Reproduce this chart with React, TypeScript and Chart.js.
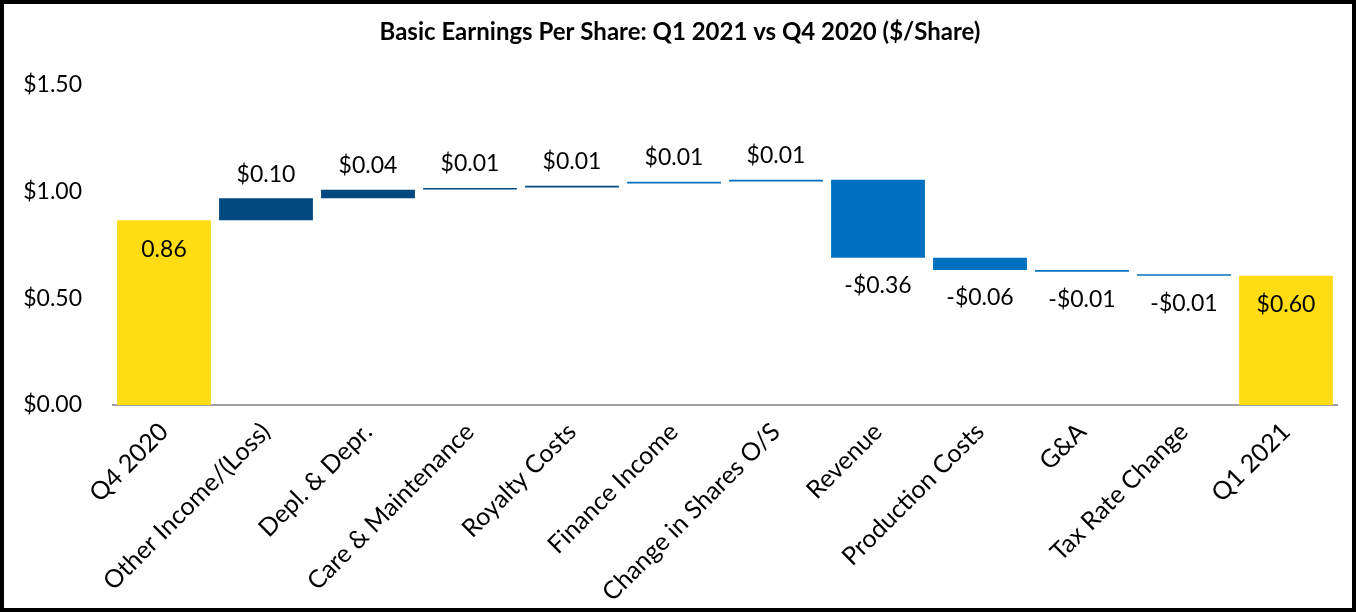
import React, { useEffect, useRef } from "react";
import { Chart, registerables } from "chart.js";

Chart.register(...registerables);

const categories = [
  "Q4 2020",
  "Other Income/(Loss)",
  "Depl. & Depr.",
  "Care & Maintenance",
  "Royalty Costs",
  "Finance Income",
  "Change in Shares O/S",
  "Revenue",
  "Production Costs",
  "G&A",
  "Tax Rate Change",
  "Q1 2021",
];

// Floating bar ends ($/share)
const barLow = [0, 0.865, 0.969, 1.009, 1.019, 1.038, 1.047, 0.69, 0.633, 0.624, 0.605, 0];
const barHigh = [0.865, 0.969, 1.008, 1.017, 1.027, 1.046, 1.055, 1.055, 0.69, 0.632, 0.613, 0.605];

const valueLabels = [
  "0.86",
  "$0.10",
  "$0.04",
  "$0.01",
  "$0.01",
  "$0.01",
  "$0.01",
  "-$0.36",
  "-$0.06",
  "-$0.01",
  "-$0.01",
  "$0.60",
];

// where each value label goes relative to its bar
const labelPlacement = [
  "inside", "above", "above", "above", "above", "above", "above",
  "below", "below", "below", "below", "inside",
];

const yTicks = [0, 0.5, 1.0, 1.5];

const YELLOW = "#FFDC14";
const NAVY = "#004A80";
const BLUE = "#0070C0";
const barColors = [YELLOW, NAVY, NAVY, NAVY, NAVY, BLUE, BLUE, BLUE, BLUE, BLUE, BLUE, YELLOW];

const FONT = "Lato, 'Open Sans', sans-serif";

const valueLabelPlugin = {
  id: "valueLabels",
  afterDatasetsDraw(chart: any) {
    const ctx = chart.ctx;
    const meta = chart.getDatasetMeta(0);
    ctx.save();
    ctx.font = `23px ${FONT}`;
    ctx.fillStyle = "#000";
    ctx.textAlign = "center";
    ctx.textBaseline = "middle";
    meta.data.forEach((bar: any, i: number) => {
      const p = bar.getProps(["x", "y", "base"], true);
      const top = Math.min(p.y, p.base);
      const bottom = Math.max(p.y, p.base);
      let ty = top;
      if (labelPlacement[i] === "above") ty = top - 24;
      else if (labelPlacement[i] === "below") ty = bottom + 28;
      else ty = top + 29;
      ctx.fillText(valueLabels[i], p.x, ty);
    });
    ctx.restore();
  },
};

export default function App() {
  const ref = useRef<HTMLCanvasElement | null>(null);
  useEffect(() => {
    if (!ref.current) return;
    const chart = new Chart(ref.current, {
      type: "bar",
      data: {
        labels: categories,
        datasets: [
          {
            data: barLow.map((lo, i) => [lo, barHigh[i]]) as any,
            backgroundColor: barColors,
            borderWidth: 0,
            barPercentage: 0.92,
            categoryPercentage: 1,
          },
        ],
      },
      options: {
        responsive: false,
        animation: false,
        devicePixelRatio: 1,
        layout: { padding: { left: 19, right: 15, top: 0, bottom: 0 } },
        plugins: {
          legend: { display: false },
          tooltip: { enabled: false },
          title: {
            display: true,
            text: "Basic Earnings Per Share: Q1 2021 vs Q4 2020 ($/Share)",
            color: "#000",
            font: { family: FONT, size: 24, weight: "bold", lineHeight: 1.2 },
            padding: { top: 14, bottom: 38 },
          },
        },
        scales: {
          x: {
            grid: { display: false, drawTicks: false },
            border: { display: true, color: "#A0A0A0", width: 2 },
            ticks: {
              autoSkip: false,
              maxRotation: 45,
              minRotation: 45,
              color: "#000",
              padding: 12,
              font: { family: FONT, size: 25 },
            },
            afterFit: (s: any) => {
              s.height = 203;
            },
          },
          y: {
            min: 0,
            max: 1.5,
            grid: { display: false, drawTicks: false },
            border: { display: false },
            afterBuildTicks: (s: any) => {
              s.ticks = yTicks.map((v) => ({ value: v }));
            },
            ticks: {
              color: "#000",
              padding: 31,
              font: { family: FONT, size: 23 },
              callback: (v: any) => "$" + Number(v).toFixed(2),
            },
            afterFit: (s: any) => {
              s.width = 90;
            },
          },
        },
      },
      plugins: [valueLabelPlugin],
    });
    return () => chart.destroy();
  }, []);

  return (
    <div
      style={{
        position: "absolute",
        left: 0,
        top: 0,
        width: 1356,
        height: 612,
        boxSizing: "border-box",
        border: "4px solid #000",
        background: "#fff",
      }}
    >
      <canvas ref={ref} width={1348} height={604} style={{ display: "block" }} />
    </div>
  );
}
